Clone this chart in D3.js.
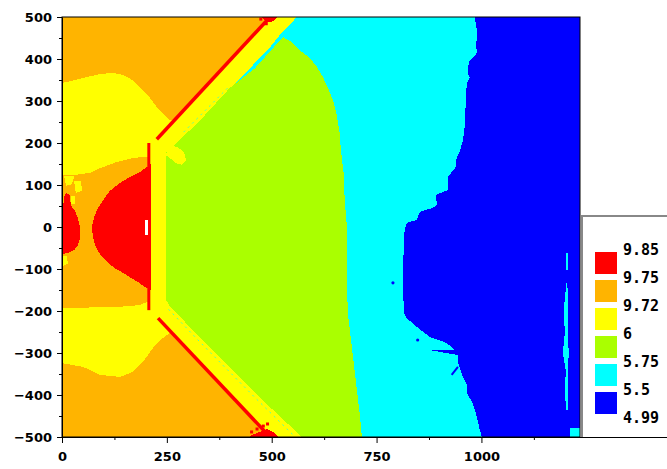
<!DOCTYPE html>
<html>
<head>
<meta charset="utf-8">
<script src="https://cdn.jsdelivr.net/npm/d3@7"></script>
<style>
  body { margin: 0; background: #fff; }
  svg { display: block; }
</style>
</head>
<body>
<div id="chart"></div>
<script>
// legend levels, top to bottom
const levelLabels = ["9.85", "9.75", "9.72", "6", "5.75", "5.5", "4.99"];
const xTicks = [0, 250, 500, 750, 1000];
const xMinorTicks = [125, 375, 625, 875, 1125];
const yTicks = [-500, -400, -300, -200, -100, 0, 100, 200, 300, 400, 500];
const yMinorTicks = [-450, -350, -250, -150, -50, 50, 150, 250, 350, 450];
const xMax = 1235;

// region outlines in data units [x, y]
const cyanZone = [
  [0, 500], [984, 500], [989, 469], [989, 445], [987, 438], [989, 414], [970, 393],
  [967, 369], [972, 355], [965, 343], [963, 302], [960, 238], [956, 207], [948, 178],
  [941, 167], [939, 143], [920, 119], [920, 88], [891, 76], [894, 52], [882, 45],
  [853, 36], [846, 17], [822, 10], [817, -7], [815, -31], [813, -126], [815, -205],
  [822, -217], [846, -238], [877, -262], [917, -276], [937, -293], [877, -293],
  [944, -305], [944, -321], [956, -357], [965, -376], [965, -395], [979, -419],
  [989, -452], [996, -483], [1001, -500], [0, -500]
];
const yellowZone = [
  [0, 500], [560, 500], [519, 457], [496, 428], [448, 378], [334, 259], [293, 219],
  [269, 195], [248, 178], [248, -174], [257, -188], [334, -269], [465, -400],
  [572, -500], [0, -500]
];
const greenZone = [
  [527, 452], [548, 440], [567, 421], [591, 402], [608, 381], [622, 357], [634, 331],
  [646, 302], [655, 267], [662, 224], [665, 183], [672, 124], [674, 64], [679, 5],
  [679, -67], [679, -138], [682, -209], [689, -269], [696, -328], [703, -388],
  [710, -447], [715, -500], [572, -500], [465, -400], [334, -269], [257, -188],
  [248, -174], [248, 178], [269, 195], [293, 219], [334, 259], [400, 331],
  [460, 378], [505, 428]
];
const orangeZone = [
  [0, 500], [496, 500], [226, 209], [207, 200], [207, -198], [229, -217],
  [496, -500], [0, -500]
];
const upperLobe = [
  [0, 343], [19, 347], [50, 355], [91, 364], [119, 367], [138, 364], [157, 357],
  [174, 345], [193, 326], [210, 307], [224, 288], [241, 271], [257, 255], [272, 250],
  [235, 200], [212, 200], [212, 167], [193, 167], [169, 164], [131, 155], [91, 140],
  [67, 129], [31, 124], [0, 124]
];
const lowerLobe = [
  [0, -193], [43, -193], [91, -190], [138, -190], [186, -186], [203, -178],
  [212, -178], [212, -198], [235, -205], [272, -248], [257, -252], [241, -264],
  [217, -288], [193, -321], [169, -345], [138, -357], [91, -352], [50, -333],
  [0, -324]
];
const yellowSpecks = [
  [[5, 121], [29, 121], [24, 102], [10, 98]],
  [[29, 109], [45, 109], [48, 86], [33, 81]],
  [[21, 74], [31, 74], [31, 55], [21, 55]],
  [[0, -69], [12, -69], [14, -88], [0, -93]],
  [[253, 195], [276, 190], [291, 178], [296, 159], [286, 148], [272, 152], [257, 164], [248, 171]]
];
const redBlob = [
  [212, 152], [203, 143], [186, 131], [162, 119], [138, 105], [114, 86], [98, 64],
  [83, 40], [76, 21], [71, 0], [74, -26], [81, -48], [93, -69], [110, -86],
  [126, -98], [145, -109], [164, -121], [181, -131], [198, -143], [212, -150]
];
const redEdge = [
  [0, 40], [2, 40], [5, 71], [10, 81], [19, 76], [21, 52], [31, 38], [38, 21],
  [43, -2], [43, -26], [38, -43], [29, -55], [14, -62], [0, -64]
];
const redPatches = [
  [[477, 500], [515, 500], [500, 488], [484, 490]],
  [[445, -500], [517, -500], [503, -488], [488, -481], [472, -488], [458, -493]]
];
const redSpecks = [[452, -488], [465, -481], [480, -474], [490, -469], [470, -495], [487, 484], [474, 495]];
const redLines = [
  [[496, 500], [226, 209]],
  [[207, 200], [207, -198]],
  [[229, -217], [496, -500]]
];
const cyanDashes = [
  [[290, 226], [330, 266], [400, 336]],
  [[254, -196], [330, -275], [460, -406], [556, -500]]
];
const whiteSpot = [[198, 17], [204, 17], [204, -19], [198, -19]];
const cyanSpecks = [
  [[1201, -62], [1206, -62], [1206, -102], [1201, -102]],
  [[1203, -133], [1206, -150], [1206, -240], [1208, -300], [1206, -360], [1206, -436],
   [1203, -436], [1199, -400], [1201, -340], [1194, -300], [1199, -250], [1196, -200],
   [1201, -150]],
  [[1211, -478], [1235, -478], [1235, -500], [1211, -500]]
];
const blueDots = [[848, -269], [865, -205], [789, -133]];
const blueStroke = [[929, -352], [944, -333]];

const colors = ["#ff0000", "#ffb400", "#ffff00", "#aaff00", "#00ffff", "#0000ff"];
const [RED, ORANGE, YELLOW, GREEN, CYAN, BLUE] = colors;

const width = 667,
  height = 469;

const x = d3.scaleLinear().domain([0, xMax]).range([62, 580]);
const y = d3.scaleLinear().domain([-500, 500]).range([437, 17]);

const svg = d3
  .select("#chart")
  .append("svg")
  .attr("width", width)
  .attr("height", height);

svg
  .append("clipPath")
  .attr("id", "plotclip")
  .append("rect")
  .attr("x", x(0))
  .attr("y", y(500))
  .attr("width", x(xMax) - x(0))
  .attr("height", y(-500) - y(500));

const plot = svg.append("g").attr("clip-path", "url(#plotclip)");

const line = d3
  .line()
  .x((d) => x(d[0]))
  .y((d) => y(d[1]));

const fillZone = (pts, color) => {
  plot
    .append("path")
    .attr("d", line(pts) + "Z")
    .attr("fill", color)
    .attr("shape-rendering", "crispEdges");
};

// background level
plot
  .append("rect")
  .attr("x", x(0))
  .attr("y", y(500))
  .attr("width", x(xMax) - x(0))
  .attr("height", y(-500) - y(500))
  .attr("fill", BLUE);

fillZone(cyanZone, CYAN);
cyanSpecks.forEach((p) => fillZone(p, CYAN));
blueDots.forEach((d) => {
  plot.append("circle").attr("cx", x(d[0])).attr("cy", y(d[1])).attr("r", 1.6).attr("fill", BLUE);
});
plot
  .append("path")
  .attr("d", line(blueStroke))
  .attr("stroke", BLUE)
  .attr("stroke-width", 2)
  .attr("fill", "none");

fillZone(yellowZone, YELLOW);
cyanDashes.forEach((l) => {
  plot
    .append("path")
    .attr("d", line(l))
    .attr("stroke", CYAN)
    .attr("stroke-width", 1)
    .attr("stroke-dasharray", "2,4")
    .attr("opacity", 0.7)
    .attr("fill", "none");
});
fillZone(greenZone, GREEN);
fillZone(orangeZone, ORANGE);
fillZone(upperLobe, YELLOW);
fillZone(lowerLobe, YELLOW);
yellowSpecks.forEach((p) => fillZone(p, YELLOW));
fillZone(redEdge, RED);
fillZone(redBlob, RED);
redPatches.forEach((p) => fillZone(p, RED));
redSpecks.forEach((d) => {
  plot
    .append("rect")
    .attr("x", x(d[0]) - 1.5)
    .attr("y", y(d[1]) - 1.5)
    .attr("width", 3)
    .attr("height", 3)
    .attr("fill", RED);
});

redLines.forEach((l, i) => {
  plot
    .append("path")
    .attr("d", line(l))
    .attr("stroke", RED)
    .attr("stroke-width", i === 1 ? 3 : 3.5)
    .attr("fill", "none");
});
fillZone(whiteSpot, "#ffffff");

// frame
svg
  .append("rect")
  .attr("x", x(0))
  .attr("y", y(500))
  .attr("width", x(xMax) - x(0))
  .attr("height", y(-500) - y(500))
  .attr("fill", "none")
  .attr("stroke", "#000")
  .attr("stroke-width", 1);

// axes
const fmt = (d) => (d < 0 ? "\u2212" + Math.abs(d) : String(d));

const styleAxis = (g) => {
  g.selectAll("text")
    .attr("font-family", "DejaVu Sans")
    .attr("font-weight", "bold")
    .attr("font-size", 13)
    .attr("fill", "#000");
  g.select(".domain").attr("stroke", "#000");
};

svg
  .append("g")
  .attr("transform", `translate(0,${y(-500)})`)
  .call(d3.axisBottom(x).tickValues(xMinorTicks).tickSize(3).tickSizeOuter(0).tickFormat(""))
  .call((g) => g.select(".domain").remove());
svg
  .append("g")
  .attr("transform", `translate(0,${y(-500)})`)
  .call(d3.axisBottom(x).tickValues(xTicks).tickSize(6).tickPadding(9).tickSizeOuter(0).tickFormat(fmt))
  .call(styleAxis);

svg
  .append("g")
  .attr("transform", `translate(${x(0)},0)`)
  .call(d3.axisLeft(y).tickValues(yMinorTicks).tickSize(3).tickSizeOuter(0).tickFormat(""))
  .call((g) => g.select(".domain").remove());
svg
  .append("g")
  .attr("transform", `translate(${x(0)},0)`)
  .call(d3.axisLeft(y).tickValues(yTicks).tickSize(5).tickPadding(5).tickSizeOuter(0).tickFormat(fmt))
  .call(styleAxis);

// legend box
const legendLeft = 582,
  legendTop = 216;
svg
  .append("path")
  .attr("d", `M${width},${legendTop}H${legendLeft}V${y(-500)}`)
  .attr("fill", "none")
  .attr("stroke", "#888")
  .attr("stroke-width", 2);
svg
  .append("line")
  .attr("x1", x(xMax))
  .attr("x2", width)
  .attr("y1", y(-500) + 0.5)
  .attr("y2", y(-500) + 0.5)
  .attr("stroke", "#000");

const legend = svg.append("g");
colors.forEach((c, i) => {
  legend
    .append("rect")
    .attr("x", 595)
    .attr("y", 252 + 28 * i)
    .attr("width", 22)
    .attr("height", 22)
    .attr("fill", c);
});
levelLabels.forEach((t, i) => {
  legend
    .append("text")
    .attr("x", 623)
    .attr("y", 249.5 + 28 * i)
    .attr("dominant-baseline", "central")
    .attr("font-family", "DejaVu Sans Mono")
    .attr("font-weight", "bold")
    .attr("font-size", 15)
    .attr("fill", "#000")
    .text(t);
});
</script>
</body>
</html>
